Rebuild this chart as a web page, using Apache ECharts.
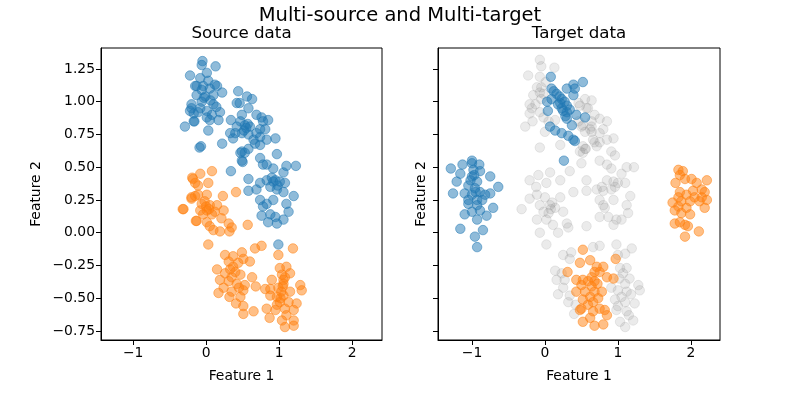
<!DOCTYPE html>
<html>
<head>
<meta charset="utf-8">
<script src="https://cdn.jsdelivr.net/npm/echarts@6/dist/echarts.min.js"></script>
<style>
  html, body { margin: 0; padding: 0; background: #fff; }
  #main { width: 800px; height: 400px; }
</style>
</head>
<body>
<div id="main"></div>
<script>
// tick labels
var xTicks = [-1, 0, 1, 2];
var yTicks = [-0.75, -0.5, -0.25, 0, 0.25, 0.5, 0.75, 1, 1.25];

// source data, class 0 (blue)
var srcBlue = [
  [-0.05,1.31],[-0.06,1.28],[0.13,1.27],[0.01,1.22],[-0.22,1.20],[-0.08,1.18],[0.03,1.16],[-0.13,1.12],
  [-0.04,1.12],[0.12,1.13],[0.15,1.12],[-0.06,1.09],[0.05,1.10],[0.22,1.07],[-0.13,1.05],[-0.01,1.04],
  [0.10,1.05],[-0.06,1.00],[0.10,0.98],[-0.20,0.98],[-0.20,0.95],[-0.08,0.95],[0.01,0.93],[-0.17,0.91],
  [0.08,0.90],[0.19,0.92],[0.01,0.88],[0.05,0.86],[0.17,0.86],[-0.17,0.85],[-0.29,0.81],[0.03,0.78],
  [-0.07,0.66],[0.22,0.68],[-0.15,1.12],[-0.22,0.93],[-0.16,0.85],[-0.09,0.65],[-0.03,1.03],[0.06,1.01],
  [-0.11,0.92],[0.14,0.96],
  [0.44,1.08],[0.42,0.99],[0.46,0.99],[0.56,1.04],[0.63,1.02],[0.58,0.95],[0.49,0.90],[0.69,0.90],
  [0.76,0.88],[0.34,0.86],[0.47,0.85],[0.53,0.82],[0.60,0.81],[0.78,0.85],[0.85,0.86],[0.42,0.81],
  [0.74,0.79],[0.81,0.79],[0.33,0.76],[0.40,0.76],[0.49,0.76],[0.69,0.76],[0.58,0.75],[0.74,0.73],
  [0.37,0.72],[0.83,0.71],[0.95,0.72],[0.65,0.71],[0.67,0.68],[0.74,0.67],[0.58,0.64],[0.49,0.62],
  [0.97,0.60],[0.74,0.57],[0.49,0.55],[0.55,0.80],[0.52,0.78],[0.57,0.83],
  [0.47,0.61],[0.53,0.61],[0.50,0.54],[0.78,0.52],[0.83,0.52],[1.10,0.51],[1.23,0.51],[0.34,0.47],
  [0.92,0.49],[1.06,0.46],[0.58,0.41],[0.83,0.40],[0.92,0.39],[1.01,0.39],[0.74,0.38],[1.08,0.38],
  [0.88,0.35],[0.58,0.32],[0.69,0.33],[0.97,0.33],[1.06,0.31],[1.20,0.28],[0.74,0.25],[0.92,0.25],
  [0.83,0.22],[1.10,0.22],[0.78,0.20],[1.13,0.16],[0.76,0.13],[0.88,0.14],[0.95,0.12],[1.06,0.10],
  [0.85,0.08],[0.97,0.07],[0.99,-0.09],[0.95,0.40],[0.98,0.36],[0.90,0.42]
];

// source data, class 1 (orange)
var srcOrange = [
  [-0.19,0.42],[-0.08,0.45],[0.08,0.47],[0.03,0.38],[-0.11,0.36],[0.41,0.31],[-0.11,0.29],[0.01,0.29],
  [0.23,0.28],[-0.20,0.26],[-0.06,0.22],[0.05,0.21],[0.15,0.21],[-0.32,0.18],[-0.08,0.17],[0.01,0.17],
  [0.12,0.16],[0.24,0.17],[-0.04,0.14],[0.08,0.14],[0.21,0.11],[-0.14,0.09],[0.01,0.08],[0.31,0.07],
  [0.05,0.05],[0.35,0.04],[0.57,0.06],[0.19,0.01],[0.32,0.01],[0.10,0.02],[0.03,-0.09],[-0.18,0.41],
  [-0.15,0.38],[-0.20,0.27],[-0.15,0.28],[-0.31,0.18],[-0.13,0.09],[0.00,0.20],[0.04,0.18],[-0.02,0.24],
  [0.67,-0.12],[0.76,-0.10],[1.19,-0.12],[0.99,-0.17],[0.26,-0.17],[0.49,-0.15],[0.37,-0.18],[0.51,-0.20],
  [0.31,-0.22],[0.44,-0.23],[0.60,-0.22],[0.37,-0.26],[1.01,-0.27],[1.10,-0.26],[0.15,-0.28],[0.26,-0.31],
  [0.35,-0.34],[0.47,-0.32],[0.63,-0.34],[1.04,-0.32],[1.15,-0.31],[0.90,-0.36],[0.19,-0.36],[0.31,-0.37],
  [0.42,-0.39],[0.53,-0.40],[1.06,-0.39],[0.68,-0.41],[1.29,-0.40],[0.24,-0.42],[0.81,-0.43],[0.88,-0.43],
  [0.99,-0.42],[1.15,-0.45],[1.31,-0.44],[0.17,-0.46],[0.35,-0.45],[0.51,-0.44],[0.32,-0.49],[0.47,-0.49],
  [0.88,-0.48],[1.06,-0.48],[0.97,-0.49],[1.01,-0.53],[1.13,-0.53],[1.24,-0.54],[0.41,-0.54],[0.51,-0.56],
  [0.83,-0.58],[0.95,-0.59],[1.08,-0.58],[1.20,-0.59],[0.65,-0.60],[0.51,-0.62],[1.10,-0.63],[0.87,-0.65],
  [1.04,-0.67],[1.20,-0.67],[1.08,-0.72],[1.20,-0.71],[0.97,-0.55],[1.06,-0.36],[1.08,-0.34],[1.03,-0.45],
  [1.05,-0.41],[1.02,-0.50],[0.40,-0.30],[0.33,-0.28],[0.45,-0.42]
];

// target data, class 0 (blue)
var tgtBlue = [
  [0.08,1.19],[0.52,1.15],[0.39,1.13],[0.30,1.10],[0.41,1.10],[0.09,1.10],[0.16,1.06],[0.09,1.02],
  [0.23,1.02],[0.39,1.05],[0.03,1.00],[0.18,0.98],[0.30,0.97],[0.27,1.00],[0.23,0.95],[0.04,0.93],
  [0.30,0.92],[0.43,0.90],[0.55,0.88],[0.30,0.87],[0.37,0.82],[0.07,0.81],[0.14,0.78],[0.23,0.76],
  [0.32,0.74],[0.39,0.71],[0.41,0.70],[0.26,0.55],[0.20,1.04],[0.25,0.93],[0.21,0.99],[0.12,1.08],
  [0.28,0.89],[0.34,0.94],
  [-1.00,0.55],[-1.29,0.49],[-1.13,0.52],[-1.00,0.53],[-0.90,0.52],[-0.98,0.48],[-1.16,0.45],[-0.89,0.47],
  [-1.00,0.43],[-0.75,0.43],[-1.21,0.39],[-0.93,0.39],[-1.05,0.36],[-0.96,0.34],[-0.64,0.35],[-0.89,0.31],
  [-1.26,0.30],[-1.10,0.30],[-1.00,0.29],[-0.75,0.30],[-0.82,0.29],[-1.05,0.25],[-0.93,0.25],[-0.86,0.25],
  [-1.05,0.22],[-0.93,0.21],[-0.71,0.19],[-1.00,0.16],[-0.89,0.17],[-1.10,0.14],[-0.80,0.13],[-0.93,0.10],
  [-1.16,0.03],[-0.85,0.02],[-0.96,-0.03],[-0.93,-0.11],[-1.02,0.40],[-0.97,0.44],[-0.95,0.31]
];

// target data, class 1 (orange)
var tgtOrange = [
  [1.83,0.48],[1.89,0.47],[1.85,0.44],[1.79,0.38],[1.92,0.41],[2.01,0.41],[2.08,0.38],[2.22,0.40],
  [1.85,0.31],[2.03,0.32],[2.15,0.33],[2.19,0.31],[1.83,0.27],[1.94,0.29],[2.05,0.27],[2.15,0.27],
  [1.75,0.23],[1.87,0.24],[1.99,0.24],[2.12,0.24],[2.22,0.25],[1.83,0.20],[1.94,0.19],[2.19,0.19],
  [1.78,0.17],[1.87,0.15],[1.99,0.14],[1.78,0.07],[1.85,0.08],[1.92,0.06],[1.96,0.05],[1.92,-0.03],
  [2.11,0.01],
  [0.52,-0.13],[0.97,-0.20],[0.62,-0.21],[0.48,-0.23],[0.71,-0.26],[0.80,-0.26],[0.68,-0.30],[0.75,-0.30],
  [0.31,-0.30],[0.64,-0.34],[0.85,-0.34],[0.94,-0.35],[0.43,-0.36],[0.52,-0.36],[0.59,-0.37],[0.68,-0.37],
  [0.72,-0.39],[0.50,-0.40],[0.64,-0.41],[0.43,-0.45],[0.55,-0.45],[0.68,-0.45],[0.78,-0.45],[0.62,-0.49],
  [0.73,-0.50],[0.52,-0.51],[0.66,-0.53],[0.59,-0.55],[0.50,-0.58],[0.48,-0.59],[0.75,-0.58],[0.82,-0.59],
  [0.66,-0.60],[0.85,-0.63],[0.62,-0.65],[0.52,-0.68],[0.68,-0.71],[0.80,-0.70]
];

// other target domains (gray)
var tgtGray = [
  [-0.07,1.32],[-0.05,1.27],[0.13,1.26],[-0.23,1.20],[-0.07,1.19],[0.01,1.15],[-0.11,1.11],[-0.05,1.11],
  [-0.07,1.07],[-0.02,1.06],[-0.16,1.05],[-0.05,1.02],[-0.21,0.98],[-0.13,0.98],[-0.18,0.95],[-0.07,0.92],
  [-0.21,0.91],[-0.02,0.88],[-0.17,0.85],[-0.27,0.81],[0.05,0.85],[0.14,0.86],[0.00,0.77],[0.55,1.02],
  [0.48,0.97],[0.57,0.95],[0.46,0.85],[0.50,0.81],[0.62,0.79],[0.55,0.77],[-0.07,0.65],[0.21,0.67],
  [0.48,0.62],[0.56,0.64],
  [0.64,1.01],[0.46,0.99],[0.59,0.95],[0.68,0.90],[0.75,0.87],[0.85,0.85],[0.64,0.85],[0.52,0.82],
  [0.80,0.79],[0.75,0.76],[0.64,0.77],[0.66,0.71],[0.85,0.71],[0.94,0.72],[0.75,0.69],[0.71,0.66],
  [0.55,0.64],[0.91,0.62],[0.64,0.81],[0.68,0.69],[0.52,0.66],[0.96,0.59],[0.52,0.61],[0.50,0.53],
  [0.75,0.55],[0.85,0.52],[0.91,0.49],[1.12,0.50],[1.22,0.50],[1.05,0.45],[0.57,0.40],[0.85,0.40],
  [0.94,0.39],[1.00,0.38],[1.10,0.38],[0.78,0.35],[0.96,0.35],[0.57,0.32],[0.71,0.33],[0.80,0.32],
  [0.91,0.33],[1.17,0.28],[0.75,0.25],[0.94,0.25],[0.80,0.21],[1.12,0.21],[0.82,0.19],[0.75,0.12],
  [0.87,0.12],[0.98,0.10],[1.05,0.10],[0.94,0.06],[0.57,0.05],[1.14,0.15],[0.66,-0.11],[0.75,-0.10],
  [0.98,-0.09],[1.19,-0.12],[1.00,-0.17],
  [-0.09,0.44],[0.07,0.46],[-0.21,0.40],[-0.12,0.35],[0.02,0.38],[0.21,0.40],[0.34,0.47],[0.39,0.31],
  [-0.11,0.29],[0.00,0.27],[-0.21,0.26],[0.21,0.27],[-0.32,0.18],[-0.07,0.21],[0.07,0.21],[0.14,0.19],
  [-0.02,0.16],[0.05,0.15],[0.25,0.16],[-0.11,0.10],[0.02,0.10],[0.11,0.06],[0.30,0.07],[0.32,0.04],
  [0.18,0.00],[-0.07,0.00],[0.02,-0.09],[0.08,0.18],[0.10,0.23],
  [0.25,-0.17],[0.34,-0.20],[0.36,-0.15],[1.10,-0.16],[0.14,-0.29],[0.23,-0.31],[0.16,-0.36],[0.27,-0.36],
  [1.03,-0.27],[1.12,-0.27],[1.07,-0.31],[1.02,-0.35],[1.16,-0.35],[1.10,-0.39],[1.28,-0.40],[1.30,-0.44],
  [0.25,-0.42],[0.18,-0.47],[0.34,-0.48],[0.91,-0.42],[1.00,-0.44],[1.12,-0.45],[1.18,-0.47],[1.05,-0.49],
  [0.96,-0.51],[1.10,-0.53],[1.23,-0.54],[0.32,-0.53],[0.42,-0.55],[0.98,-0.59],[1.12,-0.60],[1.21,-0.67],
  [1.03,-0.68],[1.10,-0.72],[1.00,-0.56],[0.40,-0.62],[1.15,-0.63]
];

var FONT = 'DejaVu Sans';
var minus = function (s) { return String(s).replace('-', '\u2212'); };

function makeX(idx, lo, hi) {
  return {
    type: 'value', gridIndex: idx, min: lo, max: hi,
    name: 'Feature 1', nameLocation: 'middle', nameGap: 29,
    nameTextStyle: { color: '#000', fontFamily: FONT, fontSize: 13.9 },
    axisLine: { onZero: false, lineStyle: { color: '#000', width: 1 } },
    axisTick: { show: true, length: 5, customValues: xTicks, lineStyle: { color: '#000' } },
    axisLabel: { customValues: xTicks, color: '#000', fontFamily: FONT, fontSize: 13.9, margin: 6,
      formatter: function (v) { return minus(v); } },
    splitLine: { show: false }
  };
}
function makeY(idx, showLabels, gap) {
  return {
    type: 'value', gridIndex: idx, min: -0.819, max: 1.41,
    name: 'Feature 2', nameLocation: 'middle', nameGap: gap, nameRotate: 90,
    nameTextStyle: { color: '#000', fontFamily: FONT, fontSize: 13.9 },
    axisLine: { onZero: false, lineStyle: { color: '#000', width: 1 } },
    axisTick: { show: true, length: 5, customValues: yTicks, lineStyle: { color: '#000' } },
    axisLabel: { show: showLabels, customValues: yTicks, color: '#000', fontFamily: FONT, fontSize: 13.9, margin: 6,
      formatter: function (v) { return minus(v.toFixed(2)); } },
    splitLine: { show: false }
  };
}
function dots(name, data, xi, color, alpha) {
  return {
    type: 'scatter', name: name, xAxisIndex: xi, yAxisIndex: xi, data: data,
    symbol: 'circle', symbolSize: 9.5, silent: true,
    itemStyle: { color: color, opacity: alpha, borderColor: color, borderWidth: 1 }
  };
}

var chart = echarts.init(document.getElementById('main'), null, { renderer: 'canvas' });
chart.setOption({
  animation: false,
  backgroundColor: '#fff',
  grid: [
    { left: 101, top: 48, width: 281, height: 292, show: true, borderColor: '#000', borderWidth: 1 },
    { left: 438, top: 48, width: 282, height: 292, show: true, borderColor: '#000', borderWidth: 1 }
  ],
  xAxis: [makeX(0, -1.44, 2.41), makeX(1, -1.466, 2.40)],
  yAxis: [makeY(0, true, 58), makeY(1, false, 10)],
  graphic: [
    { type: 'text', x: 400, y: 16, style: { text: 'Multi-source and Multi-target', fill: '#000',
      font: '19.5px "DejaVu Sans"', textAlign: 'center', textVerticalAlign: 'middle' } },
    { type: 'text', x: 241.5, y: 34, style: { text: 'Source data', fill: '#000',
      font: '16.7px "DejaVu Sans"', textAlign: 'center', textVerticalAlign: 'middle' } },
    { type: 'text', x: 579, y: 34, style: { text: 'Target data', fill: '#000',
      font: '16.7px "DejaVu Sans"', textAlign: 'center', textVerticalAlign: 'middle' } }
  ],
  series: [
    dots('source 0', srcBlue, 0, '#1f77b4', 0.5),
    dots('source 1', srcOrange, 0, '#ff7f0e', 0.5),
    dots('other', tgtGray, 1, '#808080', 0.16),
    dots('target 0', tgtBlue, 1, '#1f77b4', 0.5),
    dots('target 1', tgtOrange, 1, '#ff7f0e', 0.5)
  ]
});
</script>
</body>
</html>
